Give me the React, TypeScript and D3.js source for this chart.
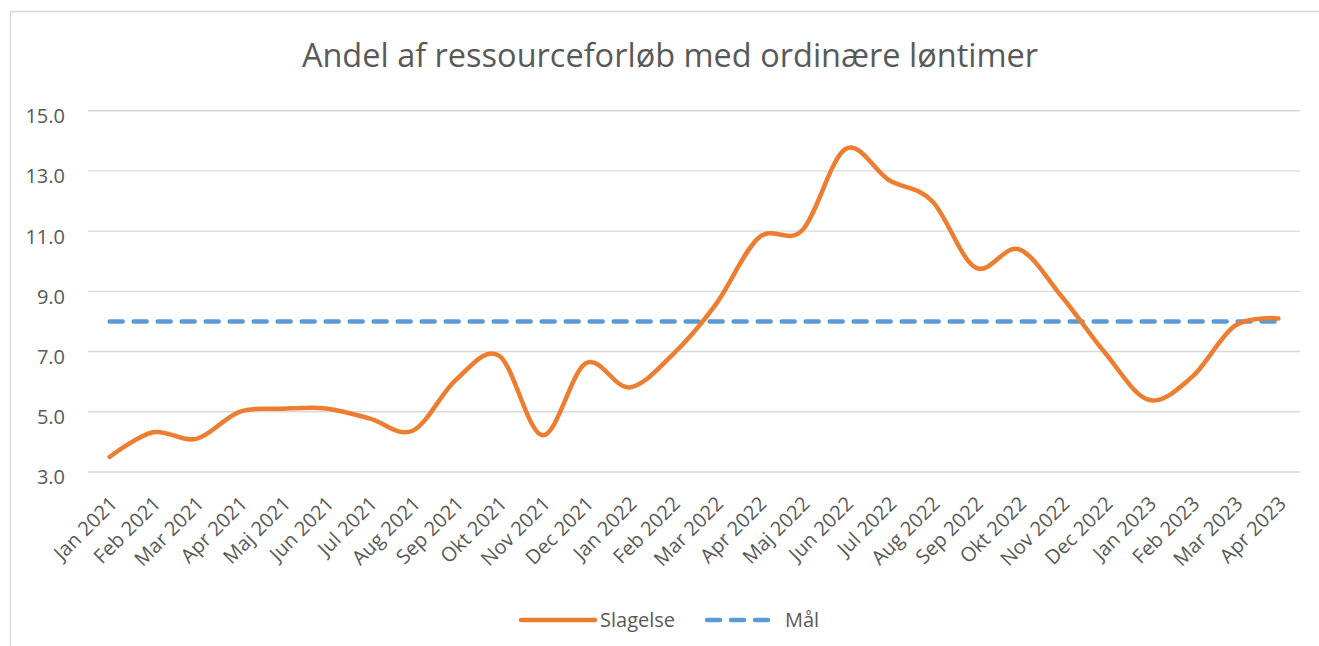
import React from 'react';
import * as d3 from 'd3';

// data
const months = [
  'Jan 2021', 'Feb 2021', 'Mar 2021', 'Apr 2021', 'Maj 2021', 'Jun 2021', 'Jul 2021',
  'Aug 2021', 'Sep 2021', 'Okt 2021', 'Nov 2021', 'Dec 2021', 'Jan 2022', 'Feb 2022',
  'Mar 2022', 'Apr 2022', 'Maj 2022', 'Jun 2022', 'Jul 2022', 'Aug 2022', 'Sep 2022',
  'Okt 2022', 'Nov 2022', 'Dec 2022', 'Jan 2023', 'Feb 2023', 'Mar 2023', 'Apr 2023',
];
const slagelse = [
  3.5, 4.32, 4.1, 5.0, 5.1, 5.11, 4.78, 4.37, 6.06, 6.86, 4.22, 6.61, 5.81, 6.89,
  8.56, 10.79, 11.03, 13.73, 12.7, 12.0, 9.79, 10.4, 8.82, 6.95, 5.4, 6.15, 7.86, 8.1,
];
const maal = [
  8, 8, 8, 8, 8, 8, 8, 8, 8, 8, 8, 8, 8, 8,
  8, 8, 8, 8, 8, 8, 8, 8, 8, 8, 8, 8, 8, 8,
];
const yTicks = [3, 5, 7, 9, 11, 13, 15];

const title = 'Andel af ressourceforløb med ordinære løntimer';
const font = '"Open Sans", sans-serif';
const textColor = '#595959';
const gridColor = '#d9d9d9';
const orange = '#ED7D31';
const blue = '#5B9BD5';

export default function App() {
  const width = 1319;
  const height = 646;
  const plot = { left: 88, right: 1300, top: 110.7, bottom: 472 };

  const x = d3.scaleBand<string>().domain(months).range([plot.left, plot.right]);
  const y = d3.scaleLinear().domain([3, 15]).range([plot.bottom, plot.top]);
  const cx = (m: string) => (x(m) as number) + x.bandwidth() / 2;

  const smooth = d3
    .line<number>()
    .x((_, i) => cx(months[i]))
    .y(d => y(d))
    .curve(d3.curveCatmullRom.alpha(0));

  const straight = d3
    .line<number>()
    .x((_, i) => cx(months[i]))
    .y(d => y(d));

  return (
    <svg
      width={width}
      height={height}
      style={{ position: 'absolute', left: 0, top: 0, background: '#fff' }}
      fontFamily={font}>
      {/* chart area border */}
      <path d={`M10.5,${height}V11.5H${width}`} fill="none" stroke={gridColor} strokeWidth={1.3} />

      <text x={670} y={66.7} textAnchor="middle" fontSize={32.5} fill={textColor}>
        {title}
      </text>

      {/* grid + y labels */}
      {yTicks.map(t => (
        <g key={t}>
          <line x1={plot.left} x2={plot.right} y1={y(t)} y2={y(t)} stroke={gridColor} strokeWidth={1.4} />
          <text x={65} y={y(t) + 12.4} textAnchor="end" fontSize={20} fill={textColor}>
            {t.toFixed(1)}
          </text>
        </g>
      ))}

      {/* x labels */}
      {months.map(m => (
        <text
          key={m}
          transform={`translate(${cx(m) + 9},${plot.bottom + 33}) rotate(-45)`}
          textAnchor="end"
          fontSize={20}
          fill={textColor}>
          {m}
        </text>
      ))}

      {/* series */}
      <path d={straight(maal) || ''} fill="none" stroke={blue} strokeWidth={4.5} strokeDasharray="13,11" strokeLinecap="round" />
      <path d={smooth(slagelse) || ''} fill="none" stroke={orange} strokeWidth={4.5} strokeLinecap="round" strokeLinejoin="round" />

      {/* legend */}
      <line x1={521} x2={595} y1={620} y2={620} stroke={orange} strokeWidth={4.5} strokeLinecap="round" />
      <text x={600} y={627} fontSize={20} fill={textColor}>Slagelse</text>
      <line x1={707} x2={770} y1={620} y2={620} stroke={blue} strokeWidth={4.5} strokeDasharray="13,11" strokeLinecap="round" />
      <text x={785} y={627} fontSize={20} fill={textColor}>Mål</text>
    </svg>
  );
}
